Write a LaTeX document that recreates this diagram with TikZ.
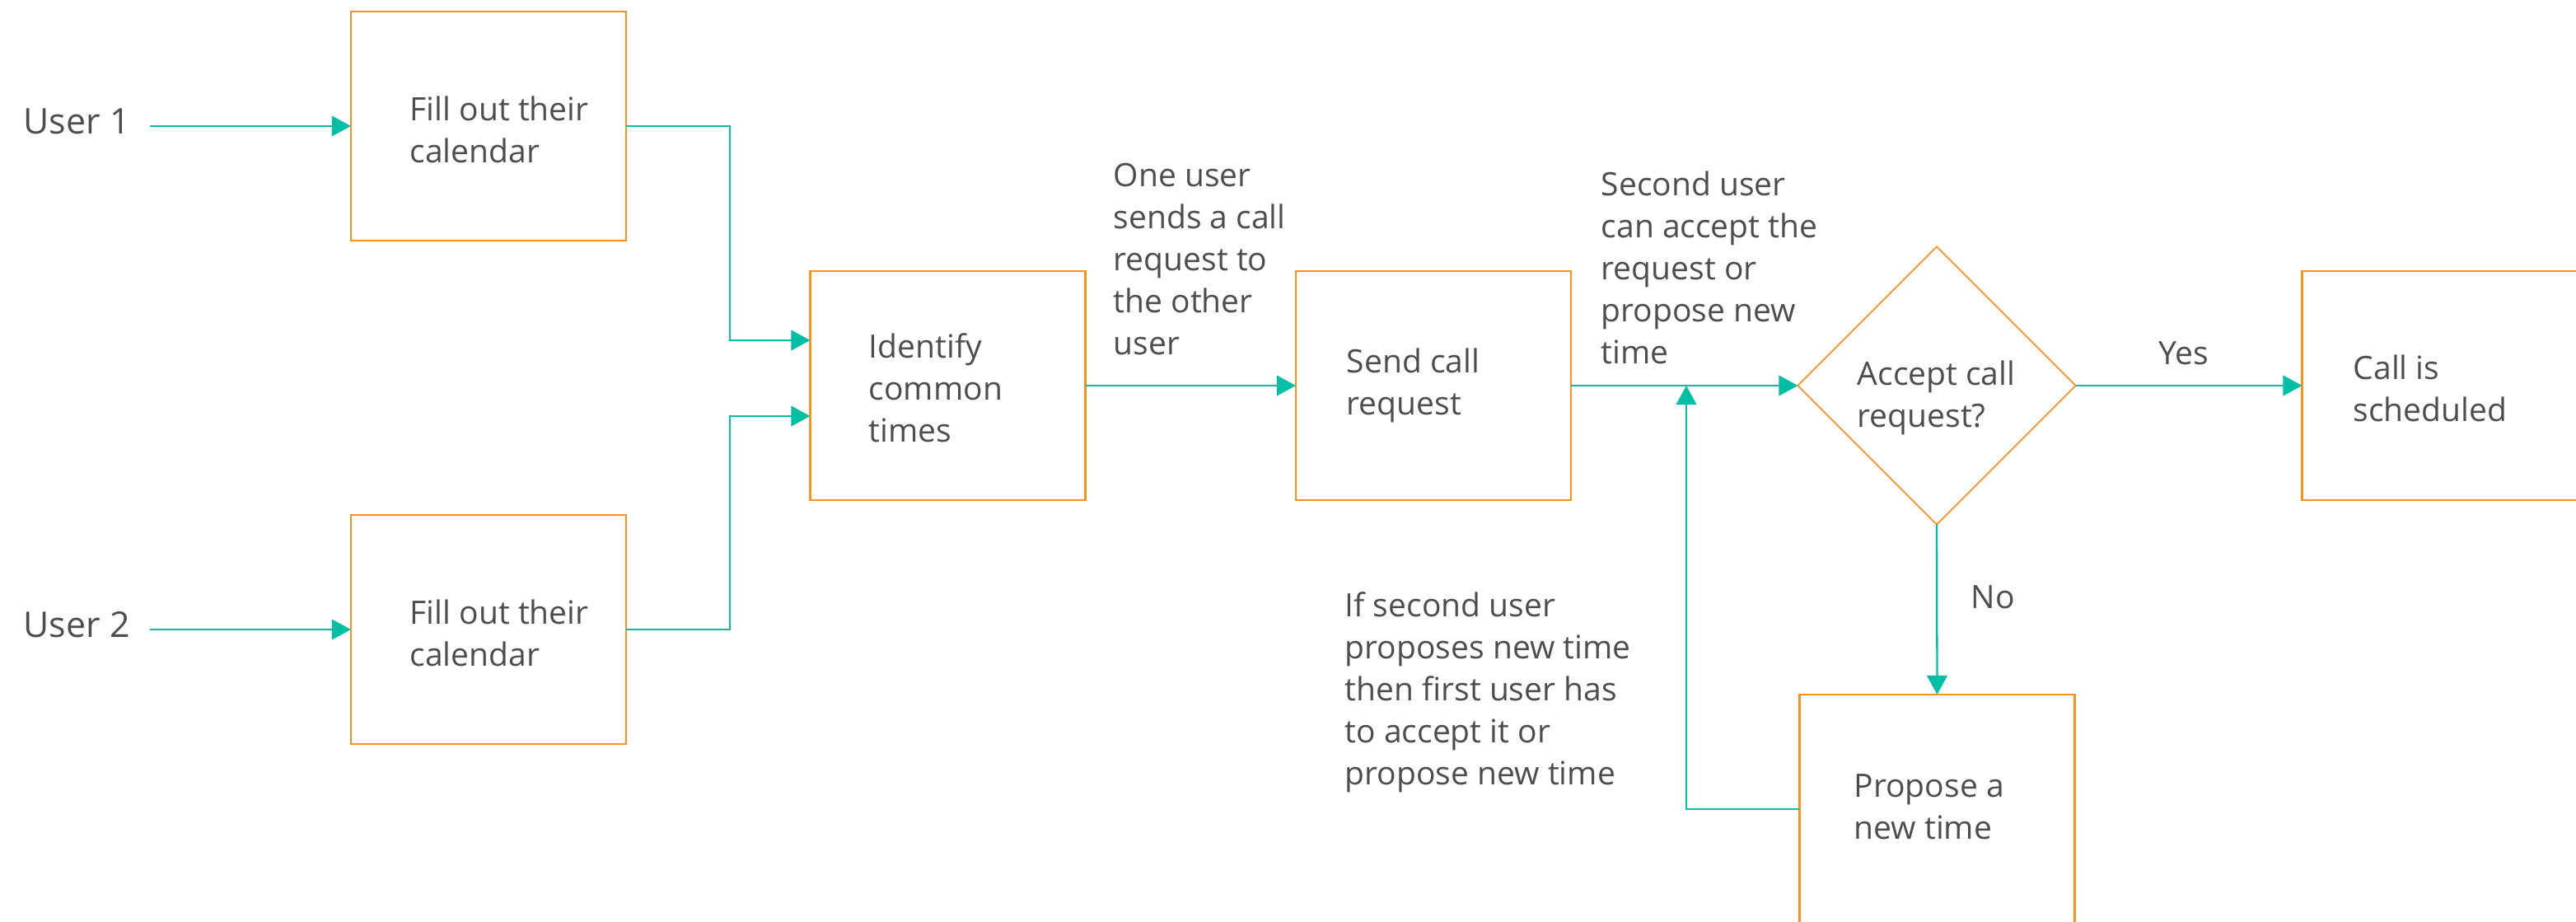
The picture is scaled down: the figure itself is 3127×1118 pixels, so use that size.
\documentclass[tikz,border=0pt]{standalone}
\usepackage{fontspec}
\setmainfont{Open Sans}
\usetikzlibrary{arrows.meta,shapes.geometric}
\definecolor{boxorange}{HTML}{F7931E}
\definecolor{flowteal}{HTML}{00BFA5}
\definecolor{txtgray}{HTML}{4D4D4D}
\begin{document}
\begin{tikzpicture}[x=0.01cm,y=-0.01cm,
  stepbox/.style={draw=boxorange, line width=0.65pt, minimum width=3.34cm, minimum height=2.78cm, inner sep=0pt, outer sep=0pt},
  decision/.style={diamond, draw=boxorange, line width=0.5pt, minimum width=3.37cm, minimum height=3.37cm, inner sep=0pt, outer sep=0pt},
  flow/.style={draw=flowteal, line width=0.65pt, -{Triangle[length=0.23cm,width=0.245cm]}},
  lbl/.style={text=txtgray, inner sep=0pt, anchor=base west, align=left, font=\fontsize{11.1pt}{14.5pt}\selectfont},
  userlbl/.style={text=txtgray, inner sep=0pt, anchor=base west, font=\fontsize{12.2pt}{15pt}\selectfont}]
\useasboundingbox (0,0) rectangle (3127,1118);
% boxes
\node[stepbox] (fill1) at (593,153) {};
\node[stepbox] (fill2) at (593,764) {};
\node[stepbox] (ident) at (1150.5,468) {};
\node[stepbox] (send) at (1740,468) {};
\node[decision] (dec) at (2351,468) {};
\node[stepbox] (call) at (2961.5,468) {};
\node[stepbox] (prop) at (2351.5,982) {};
% texts (anchored at the baseline of their last line)
\node[userlbl] (u1) at (28,162) {User 1};
\node[userlbl] (u2) at (28,773) {User 2};
\node[lbl] (t1) at (497,197) {Fill out their\\calendar};
\node[lbl] (t2) at (497,808) {Fill out their\\calendar};
\node[lbl] (t3) at (1054,536) {Identify\\common\\times};
\node[lbl] (t4) at (1634,503) {Send call\\request};
\node[lbl] (t5) at (1351,430) {One user\\sends a call\\request to\\the other\\user};
\node[lbl] (t6) at (1943,441) {Second user\\can accept the\\request or\\propose new\\time};
\node[lbl] (t7) at (2254,518) {Accept call\\request?};
\node[lbl] (t8) at (2620,442) {Yes};
\node[lbl] (t9) at (2856,511) {Call is\\scheduled};
\node[lbl] (t10) at (2392,738) {No};
\node[lbl] (t11) at (1632,952) {If second user\\proposes new time\\then first user has\\to accept it or\\propose new time};
\node[lbl] (t12) at (2250,1018) {Propose a\\new time};
% connectors
\coordinate (s1) at (182,153);
\coordinate (s2) at (182,764);
\coordinate (j1) at (886,413);
\coordinate (j2) at (886,505);
\coordinate (loopend) at (2047,468);
\draw[flow] (s1) -- (fill1.west);
\draw[flow] (s2) -- (fill2.west);
\draw[flow] (fill1.east) -| (j1) -- (j1 -| ident.west);
\draw[flow] (fill2.east) -| (j2) -- (j2 -| ident.west);
\draw[flow] (ident.east) -- (send.west);
\draw[flow] (send.east) -- (dec.west);
\draw[flow] (dec.east) -- (call.west);
\draw[flow] (dec.south) -- (prop.north);
\draw[flow] (prop.west) -| (loopend);
\end{tikzpicture}
\end{document}
